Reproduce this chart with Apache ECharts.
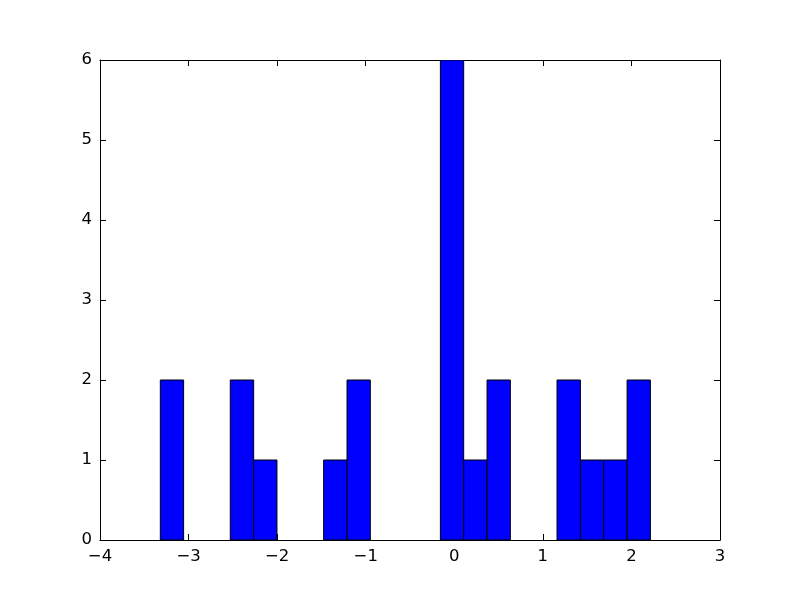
<!DOCTYPE html>
<html>
<head>
<meta charset="utf-8">
<script src="https://cdn.jsdelivr.net/npm/echarts@6/dist/echarts.min.js"></script>
<style>html,body{margin:0;padding:0;background:#fff}#c{width:800px;height:600px}</style>
</head>
<body>
<div id="c"></div>
<script>
// Histogram bin edges
var binEdges = [-3.319, -3.056, -2.792, -2.529, -2.265, -2.002, -1.738, -1.475, -1.211, -0.948, -0.684, -0.421, -0.157, 0.106, 0.370, 0.633, 0.897, 1.160, 1.424, 1.687, 1.951, 2.214];
// Counts per bin
var counts = [2, 0, 0, 2, 1, 0, 0, 1, 2, 0, 0, 0, 6, 1, 2, 0, 0, 2, 1, 1, 2];
var xTicks = [-4, -3, -2, -1, 0, 1, 2, 3];
var yTicks = [0, 1, 2, 3, 4, 5, 6];

var data = [];
for (var i = 0; i < counts.length; i++) {
  data.push([binEdges[i], binEdges[i + 1], counts[i]]);
}

function fmt(v) { return String(v).replace('-', '\u2212'); }

var font = 'DejaVu Sans';
var chart = echarts.init(document.getElementById('c'), null, {renderer: 'canvas'});
var axisLine = {show: true, onZero: false, lineStyle: {color: '#000', width: 1}};
var tick = {show: true, inside: true, length: 6, lineStyle: {color: '#000', width: 1}};
chart.setOption({
  animation: false,
  backgroundColor: '#fff',
  grid: {left: 100, right: 80, top: 60, bottom: 60, show: false},
  xAxis: [{
    type: 'value', min: xTicks[0], max: xTicks[xTicks.length - 1], interval: 1, position: 'bottom',
    axisLine: axisLine, axisTick: tick, splitLine: {show: false},
    axisLabel: {color: '#000', fontFamily: font, fontSize: 16.5, margin: 8, formatter: fmt}
  }, {
    type: 'value', min: xTicks[0], max: xTicks[xTicks.length - 1], interval: 1, position: 'top',
    axisLine: axisLine, axisTick: tick, splitLine: {show: false}, axisLabel: {show: false}
  }],
  yAxis: [{
    type: 'value', min: yTicks[0], max: yTicks[yTicks.length - 1], interval: 1, position: 'left',
    axisLine: axisLine, axisTick: tick, splitLine: {show: false},
    axisLabel: {color: '#000', fontFamily: font, fontSize: 16.5, margin: 8, formatter: fmt}
  }, {
    type: 'value', min: yTicks[0], max: yTicks[yTicks.length - 1], interval: 1, position: 'right',
    axisLine: axisLine, axisTick: tick, splitLine: {show: false}, axisLabel: {show: false}
  }],
  series: [{
    type: 'custom',
    xAxisIndex: 0, yAxisIndex: 0,
    data: data,
    clip: true,
    renderItem: function (params, api) {
      var h = api.value(2);
      if (!h) return null;
      var p0 = api.coord([api.value(0), 0]);
      var p1 = api.coord([api.value(1), h]);
      return {
        type: 'rect',
        shape: {x: p0[0], y: p1[1], width: p1[0] - p0[0], height: p0[1] - p1[1]},
        style: {fill: '#0000ff', stroke: '#000', lineWidth: 1}
      };
    }
  }]
});
</script>
</body>
</html>
